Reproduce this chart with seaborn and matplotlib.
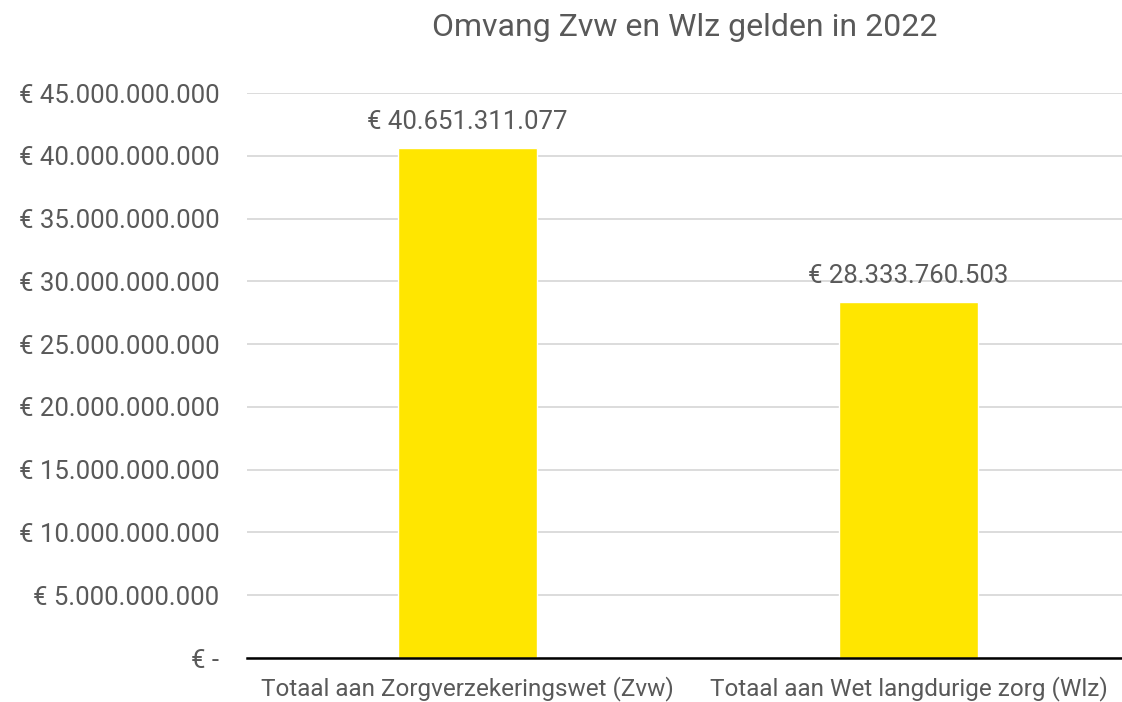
import matplotlib
matplotlib.use("Agg")
import matplotlib.pyplot as plt
import matplotlib.ticker as mticker
import seaborn as sns
import pandas as pd

categories = ["Totaal aan Zorgverzekeringswet (Zvw)", "Totaal aan Wet langdurige zorg (Wlz)"]
amounts = [40651311077, 28333760503]
title = "Omvang Zvw en Wlz gelden in 2022"


def euro(v):
    if v == 0:
        return "€ -"
    return "€ " + f"{int(round(v)):,}".replace(",", ".")


sns.set_theme(style="white")
plt.rcParams["font.family"] = ["Roboto", "DejaVu Sans"]

text_grey = "#595959"
df = pd.DataFrame({"cat": categories, "amount": amounts})

fig = plt.figure(figsize=(11.22, 7.02), dpi=100)
ax = fig.add_axes([247 / 1122, 1 - 658 / 702, 882 / 1122, (658 - 93) / 702])

sns.barplot(data=df, x="cat", y="amount", color="#FFE600", width=0.313,
            saturation=1, ax=ax, zorder=3)

ax.set_ylim(0, 45e9)
ax.yaxis.set_major_locator(mticker.MultipleLocator(5e9))
ax.yaxis.set_major_formatter(mticker.FuncFormatter(lambda v, p: euro(v)))
ax.grid(axis="y", color="#d9d9d9", linewidth=1.3, zorder=0)
ax.set_axisbelow(True)

for s in ["top", "right", "left"]:
    ax.spines[s].set_visible(False)
ax.spines["bottom"].set_color("black")
ax.spines["bottom"].set_linewidth(1.8)
ax.spines["bottom"].set_zorder(4)

ax.tick_params(axis="both", length=0, labelcolor=text_grey)
ax.tick_params(axis="y", pad=20, labelsize=18.5)
ax.tick_params(axis="x", pad=13, labelsize=17.5)
ax.set_xlabel("")
ax.set_ylabel("")

for i, v in enumerate(amounts):
    ax.annotate(euro(v), (i, v), xytext=(0, 10), textcoords="offset points",
                ha="center", va="bottom", fontsize=18.5, color=text_grey)

fig.text(0.5 * (247 + 1122) / 1122, 1 - 27 / 702, title, ha="center", va="center",
         fontsize=23, color=text_grey)

fig.savefig("out.png", dpi=100)
